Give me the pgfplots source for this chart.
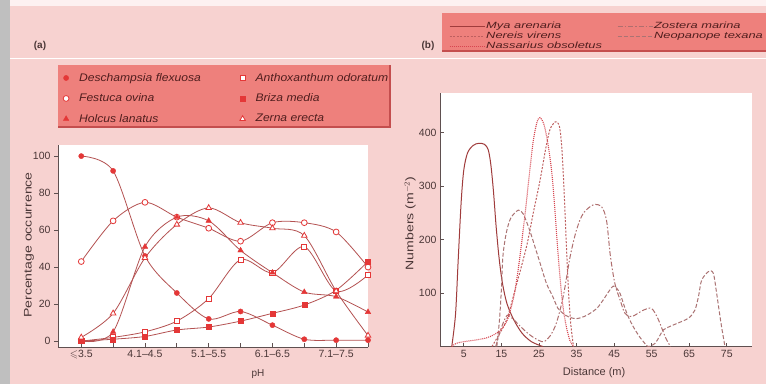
\documentclass[border=0pt]{standalone}
\usepackage{fontspec}
\setmainfont{Liberation Sans}
\newfontfamily\legAfont{Liberation Sans}[FakeStretch=1.1]
\newfontfamily\legBfont{Liberation Sans}[FakeStretch=1.43]
\newfontfamily\ylabfont{Liberation Sans}[FakeStretch=1.28]
\usepackage{amssymb}
\usepackage{pgfplots}
\pgfplotsset{compat=1.18}
\definecolor{bgpink}{RGB}{247,210,208}
\definecolor{legfill}{RGB}{238,128,124}
\definecolor{legshadow}{RGB}{196,78,78}
\definecolor{curve}{RGB}{180,82,82}
\definecolor{mk}{RGB}{228,55,55}
\definecolor{txt}{RGB}{75,55,55}
\definecolor{legtxt}{RGB}{80,30,30}
\definecolor{axline}{RGB}{95,80,80}
\definecolor{mya}{RGB}{160,60,60}
\definecolor{nereis}{RGB}{190,95,95}
\definecolor{nass}{RGB}{215,70,80}
\definecolor{zost}{RGB}{175,110,110}
\definecolor{neop}{RGB}{170,115,115}
\pgfplotsset{mkleg/.style={legend image code/.code={\path[draw=none,fill=none] (-2pt,0pt) rectangle (11pt,0.1pt);\draw[##1] plot coordinates {(0pt,0pt)};}}}
\begin{document}
\begin{tikzpicture}
\useasboundingbox (0,0) rectangle (766pt,384pt);
\fill[bgpink] (0,0) rectangle (766pt,384pt);
\fill[black!25] (0,0) rectangle (10pt,384pt);
\fill[white!70!bgpink] (10pt,378pt) rectangle (766pt,384pt);
\draw[white, line width=0.8pt] (10pt,326pt) -- (766pt,326pt);
\fill[legfill] (58pt,257pt) rectangle (390pt,319pt);
\draw[legshadow, line width=1.2pt] (58pt,257pt) -- (390pt,257pt) -- (390pt,319pt);
\fill[legfill] (442pt,333pt) rectangle (766pt,371pt);
\draw[legshadow, line width=1.2pt] (442pt,333pt) -- (766pt,333pt);
\node[font=\bfseries\fontsize{10}{12}\selectfont, text=txt] at (40pt,338pt) {(a)};
\node[font=\bfseries\fontsize{10}{12}\selectfont, text=txt] at (428pt,338pt) {(b)};

\begin{axis}[at={(58pt,37pt)}, anchor=south west, scale only axis,
  width=310pt, height=202pt,
  xmin=-0.73, xmax=9.0, ymin=-3.2, ymax=106,
  axis lines*=left, axis line style={draw=axline, line width=0.8pt, -},
  axis background/.style={fill=white},
  xtick={0,...,9},
  xticklabels={$\leqslant$3.5,,4.1--4.5,,5.1--5.5,,6.1--6.5,,7.1--7.5,},
  ytick={0,20,...,100},
  xtick align=inside, ytick align=outside,
  major tick length=4pt, tick style={draw=axline, line width=0.7pt},
  tick label style={font=\fontsize{10.5}{12}\selectfont, text=txt},
  /pgf/number format/assume math mode=true,
  clip=false,
  ylabel={Percentage occurrence}, xlabel={pH},
  every axis y label/.style={at={(rel axis cs:-0.0935,0.505)}, rotate=90, anchor=center, font=\ylabfont\fontsize{11}{12}\selectfont, text=txt},
  every axis x label/.style={at={(rel axis cs:0.645,-0.134)}, anchor=center, font=\fontsize{10}{12}\selectfont, text=txt},
  legend columns=2, legend cell align=left,
  legend style={at={(0.0065,1.376)}, anchor=north west, draw=none, fill=none,
    font=\legAfont\itshape\fontsize{11}{13}\selectfont, text=legtxt,
    row sep=7pt, /tikz/every even column/.append style={column sep=37pt},
    nodes={inner sep=2pt}},
]
% curves
\addplot[curve, line width=0.8pt, smooth, tension=0.5, forget plot] coordinates {(0,100)(1,92)(2,46)(3,26)(4,12)(5,16)(6,8.6)(7,1)(8,0.5)(9,0.5)};
\addplot[curve, line width=0.8pt, smooth, tension=0.5, forget plot] coordinates {(0,43)(1,65)(2,75)(3,67)(4,61)(5,54)(6,64)(7,64)(8,59)(9,40)};
\addplot[curve, line width=0.8pt, smooth, tension=0.5, forget plot] coordinates {(0,0)(1,5)(2,51)(3,67)(4,65)(5,49)(6,37)(7,26.5)(8,24)(9,15.7)};
\addplot[curve, line width=0.8pt, smooth, tension=0.5, forget plot] coordinates {(0,0)(1,2)(2,5)(3,10.8)(4,23)(5,44)(6,37)(7,51)(8,27)(9,35.7)};
\addplot[curve, line width=0.8pt, smooth, tension=0.5, forget plot] coordinates {(0,0)(1,1)(2,2.5)(3,6)(4,7.6)(5,10.8)(6,15)(7,19.5)(8,27.5)(9,43)};
\addplot[curve, line width=0.8pt, smooth, tension=0.5, forget plot] coordinates {(0,2)(1,15)(2,45)(3,63)(4,72)(5,64)(6,61)(7,57)(8,27)(9,3)};
% marks
\addplot[only marks, mark=*, mark size=2.6pt, mark options={draw=mk, fill=mk}, mkleg] coordinates {(0,100)(1,92)(2,46)(3,26)(4,12)(5,16)(6,8.6)(7,1)(8,0.5)(9,0.5)};
\addlegendentry{Deschampsia flexuosa}
\addplot[only marks, mark=square*, mark size=2.6pt, mark options={draw=mk, fill=white, line width=0.8pt}, mkleg] coordinates {(0,0)(1,2)(2,5)(3,10.8)(4,23)(5,44)(6,37)(7,51)(8,27)(9,35.7)};
\addlegendentry{Anthoxanthum odoratum}
\addplot[only marks, mark=*, mark size=2.9pt, mark options={draw=mk, fill=white, line width=0.8pt}, mkleg] coordinates {(0,43)(1,65)(2,75)(3,67)(4,61)(5,54)(6,64)(7,64)(8,59)(9,40)};
\addlegendentry{Festuca ovina}
\addplot[only marks, mark=square*, mark size=2.5pt, mark options={draw=mk, fill=mk}, mkleg] coordinates {(0,0)(1,1)(2,2.5)(3,6)(4,7.6)(5,10.8)(6,15)(7,19.5)(8,27.5)(9,43)};
\addlegendentry{Briza media}
\addplot[only marks, mark=triangle*, mark size=3.2pt, mark options={draw=mk, fill=mk}, mkleg] coordinates {(0,0)(1,5)(2,51)(3,67)(4,65)(5,49)(6,37)(7,26.5)(8,24)(9,15.7)};
\addlegendentry{Holcus lanatus}
\addplot[only marks, mark=triangle*, mark size=3.2pt, mark options={draw=mk, fill=white, line width=0.8pt}, mkleg] coordinates {(0,2)(1,15)(2,45)(3,63)(4,72)(5,64)(6,61)(7,57)(8,27)(9,3)};
\addlegendentry{Zerna erecta}
\end{axis}

\begin{axis}[at={(440pt,37.5pt)}, anchor=south west, scale only axis,
  width=312pt, height=253.5pt,
  xmin=-1.33, xmax=81.7, ymin=0, ymax=474,
  axis lines*=left, axis line style={draw=axline, line width=0.8pt, -},
  axis background/.style={fill=white},
  xtick={5,15,...,75}, ytick={100,200,300,400},
  tick align=inside, major tick length=4pt, tick style={draw=axline, line width=0.7pt},
  tick label style={font=\fontsize{10.5}{12}\selectfont, text=txt},
  /pgf/number format/assume math mode=true,
  ylabel={Numbers (m$^{-2}$)}, xlabel={Distance (m)},
  every axis y label/.style={at={(rel axis cs:-0.096,0.485)}, rotate=90, anchor=center, font=\ylabfont\fontsize{11}{12}\selectfont, text=txt},
  every axis x label/.style={at={(rel axis cs:0.494,-0.1045)}, anchor=center, font=\fontsize{11}{12}\selectfont, text=txt},
  legend columns=2, legend cell align=left,
  legend image code/.code={\draw[#1] (0pt,0pt) -- (35pt,0pt);},
  legend style={at={(0.019,1.292)}, anchor=north west, draw=none, fill=none,
    font=\legBfont\itshape\fontsize{9}{10}\selectfont, text=legtxt,
    row sep=0pt, /tikz/every even column/.append style={column sep=14pt},
    nodes={inner sep=1pt}},
]
\addplot[mya, line width=1pt, smooth, tension=0.5] coordinates {(1.8,0)(2.8,60)(3.5,160)(4.3,270)(5,330)(6,362)(7.5,376)(9,380)(10.5,378)(11.5,368)(12.2,340)(12.9,290)(13.6,225)(14.4,165)(15.3,118)(16.5,80)(18.3,50)(20.5,25)(23,9)(26,0)};
\addlegendentry{Mya arenaria}
\addplot[zost, line width=1pt, smooth, tension=0.5, dash pattern=on 5pt off 2pt on 1.5pt off 2pt] coordinates {(13.5,0)(15,35)(16.5,58)(18,52)(20,38)(22,25)(24,15)(26.2,9)(28,20)(29.7,45)(31.5,95)(33.3,168)(35,218)(36.8,249)(39.5,265)(41.7,261)(43,235)(44,170)(45.2,118)(46.6,87)(47.9,62)(49.7,56)(52.8,68)(55,71)(56.8,50)(58.6,18)(60,0)};
\addlegendentry{Zostera marina}
\addplot[nereis, line width=1pt, smooth, tension=0.5, dash pattern=on 2pt off 1.5pt] coordinates {(12.5,0)(14,18)(16.4,50)(19,115)(21.7,187)(23.5,250)(25.3,311)(26.8,370)(27.9,405)(29,418)(29.7,420)(30.5,410)(31.1,370)(31.7,290)(32.3,190)(32.9,100)(33.5,40)(34.2,0)};
\addlegendentry{Nereis virens}
\addplot[neop, line width=1pt, smooth, tension=0.5, dash pattern=on 4pt off 2pt] coordinates {(13.8,0)(14.5,50)(15,106)(15.4,168)(16.3,212)(17.5,240)(19.5,255)(20.8,248)(22.5,218)(24,185)(25.3,156)(27,118)(28.7,93)(30,72)(31.4,62)(33,55)(35,52)(37,56)(38.6,62)(40.5,72)(42.1,87)(43.5,102)(44.8,113)(45.8,108)(46.6,99)(47.5,80)(48.4,62)(49.5,45)(50.6,31)(52,16)(52.8,9)(54.1,0)(55.9,6)(57,18)(58.1,31)(60,38)(61.7,43)(64.8,53)(66.5,68)(67.5,95)(68.3,124)(70.1,140)(71.4,137)(72.3,99)(73,65)(73.6,37)(74.5,0)};
\addlegendentry{Neopanope texana}
\addplot[nass, line width=1.1pt, smooth, tension=0.5, dash pattern=on 1pt off 1pt] coordinates {(1.8,0)(3,6)(5,9)(8,12)(11,16)(13,22)(15,32)(16.5,48)(17.5,70)(18.5,100)(19.5,145)(20.5,200)(21.5,260)(22.5,325)(23.5,385)(24.5,420)(25.3,428)(26.2,418)(27,395)(27.8,360)(28.5,320)(29.2,260)(29.8,200)(30.6,130)(31.3,80)(32.2,40)(33.2,12)(34.2,0)};
\addlegendentry{Nassarius obsoletus}
\end{axis}
\end{tikzpicture}
\end{document}
